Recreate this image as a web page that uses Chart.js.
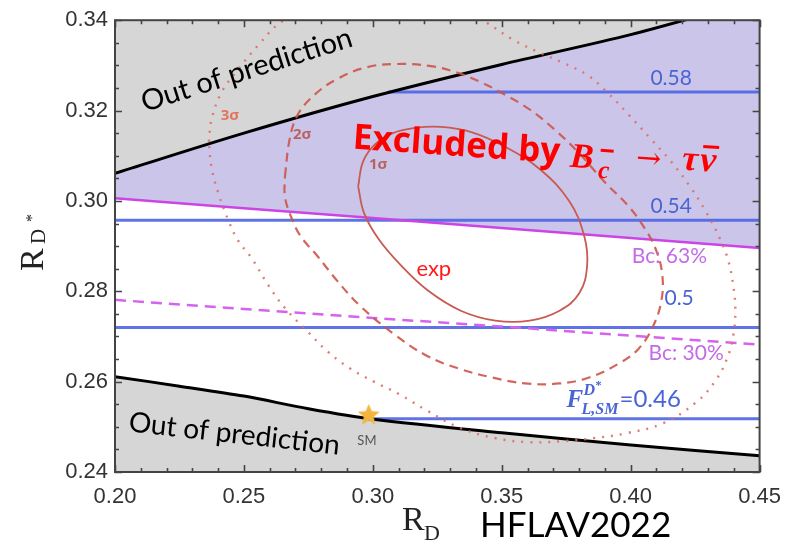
<!DOCTYPE html>
<html>
<head>
<meta charset="utf-8">
<style>
    html, body { margin: 0; padding: 0; background: #fff; }
    #myChart { display: block; }
</style>
</head>
<body>
<canvas id="myChart" width="793" height="542"></canvas>

<script src="https://cdn.jsdelivr.net/npm/chart.js"></script>

<script>

    // ---- data ----
    const rdGrid = [0.20, 0.25, 0.30, 0.35, 0.40, 0.45];
    const upperBound = [0.3061, 0.3150, 0.3231, 0.3302, 0.3368, 0.3447];
    const bc63 = [0.3006, 0.2984, 0.2962, 0.2940, 0.2918, 0.2896];
    const bc30 = [0.2781, 0.2761, 0.2741, 0.2722, 0.2702, 0.2682];

    const lowerX = [0.20, 0.225, 0.25, 0.275, 0.30, 0.35, 0.40, 0.45];
    const lowerBound = [0.2611, 0.2590, 0.2568, 0.2540, 0.2517, 0.2487, 0.2460, 0.2436];

    // F_L(D*) contours: label, R(D*) level, R(D) start, R(D) end
    const fLLabels = ['0.58', '0.54', '0.5', '0.46'];
    const fLLevel = [0.3241, 0.2957, 0.2720, 0.2518];
    const fLStart = [0.306, 0.20, 0.20, 0.298];
    const fLEnd = [0.45, 0.45, 0.45, 0.45];

    const sigma1X = [0.2943, 0.2962, 0.3008, 0.3073, 0.3169, 0.3264, 0.3379, 0.3513, 0.3648, 0.3762, 0.3820,
        0.3831, 0.3801, 0.3724, 0.3609, 0.3475, 0.3341, 0.3215, 0.3111, 0.3023, 0.2966, 0.2943];
    const sigma1Y = [0.3032, 0.3087, 0.3125, 0.3149, 0.3162, 0.3164, 0.3153, 0.3120, 0.3070, 0.2999, 0.2922,
        0.2856, 0.2796, 0.2757, 0.2735, 0.2735, 0.2757, 0.2801, 0.2856, 0.2915, 0.2973, 0.3032];

    const sigma2X = [0.2659, 0.2678, 0.2709, 0.2774, 0.2862, 0.2977, 0.3092, 0.3218, 0.3322, 0.3418, 0.3513,
        0.3609, 0.3705, 0.3801, 0.3897, 0.3992, 0.4057, 0.4100, 0.4123, 0.4119, 0.4088, 0.4031, 0.3954,
        0.3839, 0.3724, 0.3590, 0.3464, 0.3333, 0.3207, 0.3080, 0.2950, 0.2862, 0.2785, 0.2720, 0.2682,
        0.2659, 0.2659];
    const sigma2Y = [0.3054, 0.3138, 0.3191, 0.3235, 0.3270, 0.3296, 0.3303, 0.3299, 0.3285, 0.3263, 0.3235,
        0.3202, 0.3158, 0.3105, 0.3043, 0.2988, 0.2937, 0.2889, 0.2834, 0.2779, 0.2724, 0.2673, 0.2640,
        0.2609, 0.2596, 0.2596, 0.2609, 0.2629, 0.2658, 0.2706, 0.2768, 0.2823, 0.2878, 0.2922, 0.2966,
        0.3010, 0.3054];

    const sigma3X = [0.2364, 0.2375, 0.2414, 0.2479, 0.2556, 0.2644, 0.2785, 0.2977, 0.3169, 0.3322, 0.3437,
        0.3540, 0.3640, 0.3732, 0.3831, 0.3908, 0.3992, 0.4077, 0.4157, 0.4230, 0.4291, 0.4345, 0.4379,
        0.4398, 0.4406, 0.4398, 0.4375, 0.4330, 0.4253, 0.4126, 0.3985, 0.3858, 0.3732, 0.3602, 0.3475,
        0.3341, 0.3207, 0.3103, 0.3004, 0.2912, 0.2824, 0.2747, 0.2659, 0.2594, 0.2529, 0.2479, 0.2441,
        0.2402, 0.2375, 0.2364];
    const sigma3Y = [0.3131, 0.3182, 0.3241, 0.3292, 0.3345, 0.3396, 0.3435, 0.3453, 0.3451, 0.3429, 0.3396,
        0.3358, 0.3330, 0.3307, 0.3279, 0.3241, 0.3191, 0.3138, 0.3087, 0.3032, 0.2977, 0.2918, 0.2867,
        0.2812, 0.2757, 0.2702, 0.2653, 0.2603, 0.2554, 0.2508, 0.2486, 0.2475, 0.2468, 0.2466, 0.2475,
        0.2497, 0.2537, 0.2572, 0.2600, 0.2629, 0.2667, 0.2711, 0.2763, 0.2814, 0.2874, 0.2911, 0.2955,
        0.3015, 0.3072, 0.3131];

    const smPoint = [{ x: 0.2984, y: 0.2528 }];

    // ticks
    const xTicks = [0.20, 0.25, 0.30, 0.35, 0.40, 0.45];
    const yTicks = [0.24, 0.26, 0.28, 0.30, 0.32, 0.34];
    const xMinor = [0.21, 0.22, 0.23, 0.24, 0.26, 0.27, 0.28, 0.29, 0.31, 0.32, 0.33, 0.34,
        0.36, 0.37, 0.38, 0.39, 0.41, 0.42, 0.43, 0.44];
    const yMinor = [0.245, 0.25, 0.255, 0.265, 0.27, 0.275, 0.285, 0.29, 0.295,
        0.305, 0.31, 0.315, 0.325, 0.33, 0.335];

    // ---- colours ----
    const grayFill = 'rgb(214,214,214)';
    const purpleFill = 'rgb(203,198,233)';
    const blue = 'rgba(78,100,226,0.9)';
    const magenta = '#cc44e6';
    const sigmaRed = '#c85a52';

    function pts(xs, ys) {
        return xs.map((x, i) => ({ x: x, y: ys[i] }));
    }

    function makeStar(r) {
        const c = document.createElement('canvas');
        c.width = c.height = Math.ceil(2 * r + 2);
        const g = c.getContext('2d');
        g.translate(c.width / 2, c.height / 2 + r * 0.1);
        g.beginPath();
        for (let i = 0; i < 10; i++) {
            const rad = i % 2 ? r * 0.45 : r;
            const a = -Math.PI / 2 + i * Math.PI / 5;
            g.lineTo(rad * Math.cos(a), rad * Math.sin(a));
        }
        g.closePath();
        g.fillStyle = '#f3b53d';
        g.fill();
        return c;
    }

    const fLDatasets = fLLevel.map((lv, i) => ({
        label: 'FL ' + fLLabels[i],
        data: [{ x: fLStart[i], y: lv }, { x: fLEnd[i], y: lv }],
        borderColor: blue,
        borderWidth: 3,
        pointRadius: 0,
        fill: false,
        order: 4
    }));

    const datasets = [
        // 0-2 fills only
        { label: 'upperFill', data: pts(rdGrid, upperBound), fill: 'end', backgroundColor: grayFill,
          borderWidth: 0, pointRadius: 0, tension: 0.3, order: 20 },
        { label: 'lowerFill', data: pts(lowerX, lowerBound), fill: 'start', backgroundColor: grayFill,
          borderWidth: 0, pointRadius: 0, tension: 0.3, order: 20 },
        { label: 'bcFill', data: pts(rdGrid, bc63), fill: { target: 0 }, backgroundColor: purpleFill,
          borderWidth: 0, pointRadius: 0, tension: 0.3, order: 19 },
        // lines
        { label: 'upper', data: pts(rdGrid, upperBound), borderColor: '#000', borderWidth: 3,
          pointRadius: 0, tension: 0.3, fill: false, order: 3 },
        { label: 'lower', data: pts(lowerX, lowerBound), borderColor: '#000', borderWidth: 3,
          pointRadius: 0, tension: 0.3, fill: false, order: 3 },
        { label: 'Bc 63%', data: pts(rdGrid, bc63), borderColor: magenta, borderWidth: 2.5,
          pointRadius: 0, fill: false, order: 4 },
        { label: 'Bc 30%', data: pts(rdGrid, bc30), borderColor: '#d563ee', borderWidth: 2.5,
          borderDash: [11, 7], pointRadius: 0, fill: false, order: 4 },
        ...fLDatasets,
        { label: '1sigma', data: pts(sigma1X, sigma1Y), borderColor: sigmaRed, borderWidth: 1.8,
          pointRadius: 0, tension: 0.4, fill: false, order: 2 },
        { label: '2sigma', data: pts(sigma2X, sigma2Y), borderColor: 'rgba(205,85,75,0.9)', borderWidth: 2.2,
          borderDash: [9, 6], pointRadius: 0, tension: 0.4, fill: false, order: 2 },
        { label: '3sigma', data: pts(sigma3X, sigma3Y), borderColor: 'rgba(222,110,100,0.9)', borderWidth: 2.4,
          borderDash: [2, 7], pointRadius: 0, tension: 0.4, fill: false, order: 2 },
        { label: 'SM', data: smPoint, showLine: false, pointStyle: makeStar(11.5), pointRadius: 12,
          order: 1 }
    ];

    // text notes, anchored in data units
    const notes = [
        { text: 'Out of prediction', x: 0.2115, y: 0.3197, angle: -17.5, font: '29px Lato', color: '#000' },
        { text: 'Out of prediction', x: 0.2050, y: 0.2490, angle: 6.3, font: '28px Lato', color: '#000' },
        { text: '3σ', x: 0.2410, y: 0.3180, font: 'bold 15px "Open Sans"', color: '#e2735f' },
        { text: '2σ', x: 0.2690, y: 0.3136, font: 'bold 15px "Open Sans"', color: '#b8625e' },
        { text: '1σ', x: 0.2985, y: 0.3070, font: 'bold 15px "Open Sans"', color: '#b8625e' },
        { text: 'exp', x: 0.3169, y: 0.2834, font: '22px Lato', color: '#ff1a1a' },
        { text: fLLabels[0], x: 0.4157, y: 0.3257, font: '21px Lato', color: '#4a63d6', align: 'center' },
        { text: fLLabels[1], x: 0.4157, y: 0.2973, font: '21px Lato', color: '#4a63d6', align: 'center' },
        { text: fLLabels[2], x: 0.4188, y: 0.2770, font: '21px Lato', color: '#4a63d6', align: 'center' },
        { text: 'Bc: 63%', x: 0.4150, y: 0.2863, font: '21px Lato', color: '#c46be6', align: 'center' },
        { text: 'Bc: 30%', x: 0.4215, y: 0.2649, font: '21px Lato', color: '#c46be6', align: 'center' },
        { text: 'SM', x: 0.2977, y: 0.2459, font: '13px Lato', color: '#555', align: 'center' }
    ];
    const excludedAnchor = { x: 0.2920, y: 0.3116 };
    const fLSmAnchor = { x: 0.3751, y: 0.2543 };

    const annotationsPlugin = {
        id: 'annotations',
        afterDatasetsDraw(chart) {
            const { ctx, scales: { x, y } } = chart;
            ctx.save();
            ctx.textBaseline = 'alphabetic';
            notes.forEach(n => {
                ctx.save();
                ctx.translate(x.getPixelForValue(n.x), y.getPixelForValue(n.y));
                if (n.angle) ctx.rotate(n.angle * Math.PI / 180);
                ctx.font = n.font;
                ctx.fillStyle = n.color;
                ctx.textAlign = n.align || 'left';
                ctx.fillText(n.text, 0, 0);
                ctx.restore();
            });

            // Excluded by B_c^- -> tau nubar
            ctx.save();
            ctx.translate(x.getPixelForValue(excludedAnchor.x), y.getPixelForValue(excludedAnchor.y));
            ctx.rotate(4.0 * Math.PI / 180);
            ctx.fillStyle = '#ff0000';
            ctx.textAlign = 'left';
            ctx.font = 'bold 35px "Open Sans"';
            ctx.fillText('Excluded by', 0, 0);
            ctx.font = 'bold italic 35px "Liberation Serif"';
            ctx.fillText('B', 218, 3);
            ctx.font = 'bold italic 25px "Liberation Serif"';
            ctx.fillText('c', 247, 12);
            ctx.fillRect(248, -17, 13, 3);
            ctx.font = '30px "DejaVu Serif"';
            ctx.fillText('→', 284, -1);
            ctx.font = 'bold italic 36px "Liberation Serif"';
            ctx.fillText('τ', 330, -2);
            ctx.fillText('ν', 348, -2);
            ctx.fillRect(350, -28, 16, 3);
            ctx.restore();

            // F_{L,SM}^{D*} = 0.46
            ctx.save();
            ctx.translate(x.getPixelForValue(fLSmAnchor.x), y.getPixelForValue(fLSmAnchor.y));
            ctx.fillStyle = '#4a63d6';
            ctx.font = 'bold italic 25px "Liberation Serif"';
            ctx.fillText('F', 0, 0);
            ctx.font = 'bold italic 16px "Liberation Serif"';
            ctx.fillText('D', 17, -12);
            ctx.font = 'bold 12px "Liberation Serif"';
            ctx.fillText('*', 29, -18);
            ctx.font = 'bold italic 16px "Liberation Serif"';
            ctx.fillText('L,SM', 15, 7);
            ctx.font = '24px Lato';
            ctx.fillText('=0.46', 53, 0);
            ctx.restore();
            ctx.restore();
        },
        afterDraw(chart) {
            const { ctx, chartArea: { left, right, top, bottom }, scales: { x, y } } = chart;
            ctx.save();
            ctx.strokeStyle = '#444';
            ctx.lineWidth = 1.6;
            ctx.beginPath();
            const tick = (v, len, axis) => {
                if (axis === 'x') {
                    const p = Math.round(x.getPixelForValue(v)) + 0.5;
                    ctx.moveTo(p, bottom); ctx.lineTo(p, bottom - len);
                    ctx.moveTo(p, top); ctx.lineTo(p, top + len);
                } else {
                    const p = Math.round(y.getPixelForValue(v)) + 0.5;
                    ctx.moveTo(left, p); ctx.lineTo(left + len, p);
                    ctx.moveTo(right, p); ctx.lineTo(right - len, p);
                }
            };
            xTicks.forEach(v => tick(v, 7, 'x'));
            xMinor.forEach(v => tick(v, 4, 'x'));
            yTicks.forEach(v => tick(v, 7, 'y'));
            yMinor.forEach(v => tick(v, 4, 'y'));
            ctx.stroke();
            ctx.lineWidth = 2;
            ctx.strokeRect(left, top, right - left, bottom - top);

            // axis titles
            ctx.fillStyle = '#222';
            ctx.textAlign = 'left';
            ctx.font = '34px "Liberation Serif"';
            ctx.fillText('R', 402, 530);
            ctx.font = '22px "Liberation Serif"';
            ctx.fillText('D', 424, 540);
            ctx.fillStyle = '#000';
            ctx.font = '35px Lato';
            ctx.fillText('HFLAV2022', 480, 537);

            ctx.save();
            ctx.fillStyle = '#222';
            ctx.translate(43, 271);
            ctx.rotate(-Math.PI / 2);
            ctx.font = '34px "Liberation Serif"';
            ctx.fillText('R', 0, 0);
            ctx.font = '21px "Liberation Serif"';
            ctx.fillText('D', 27, 2);
            ctx.font = '16px "Liberation Serif"';
            ctx.fillText('*', 49, -6);
            ctx.restore();
            ctx.restore();
        }
    };

    const ctx = document.getElementById('myChart').getContext('2d');

    new Chart(ctx, {
        type: 'line',
        data: { datasets: datasets },
        options: {
            responsive: false,
            animation: false,
            devicePixelRatio: 1,
            layout: { padding: { left: 0, top: 18, right: 25, bottom: 0 } },
            plugins: {
                legend: { display: false },
                tooltip: { enabled: false },
                filler: { propagate: false }
            },
            scales: {
                x: {
                    type: 'linear',
                    min: 0.20,
                    max: 0.45,
                    grid: { display: false, drawTicks: false },
                    border: { display: false },
                    afterBuildTicks: s => { s.ticks = xTicks.map(v => ({ value: v })); },
                    afterFit: s => { s.height = 70; },
                    ticks: {
                        padding: 12,
                        color: '#333',
                        font: { family: 'Liberation Sans', size: 22 },
                        callback: v => Number(v).toFixed(2)
                    }
                },
                y: {
                    type: 'linear',
                    min: 0.24,
                    max: 0.34,
                    grid: { display: false, drawTicks: false },
                    border: { display: false },
                    afterBuildTicks: s => { s.ticks = yTicks.map(v => ({ value: v })); },
                    afterFit: s => { s.width = 115; },
                    ticks: {
                        padding: 7,
                        color: '#333',
                        font: { family: 'Liberation Sans', size: 22 },
                        callback: v => Number(v).toFixed(2)
                    }
                }
            }
        },
        plugins: [annotationsPlugin]
    });

</script>
</body>
</html>
